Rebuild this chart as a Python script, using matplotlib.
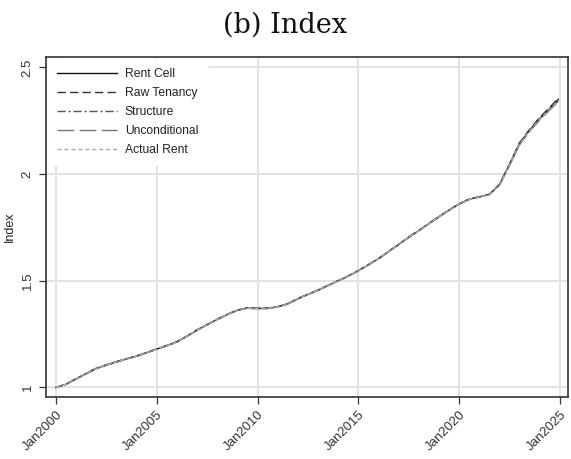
import matplotlib
matplotlib.use("Agg")
import matplotlib.pyplot as plt

# half-year sampling
years = [
    2000.0, 2000.5, 2001.0, 2001.5, 2002.0, 2002.5, 2003.0, 2003.5, 2004.0, 2004.5,
    2005.0, 2005.5, 2006.0, 2006.5, 2007.0, 2007.5, 2008.0, 2008.5, 2009.0, 2009.5,
    2010.0, 2010.5, 2011.0, 2011.5, 2012.0, 2012.5, 2013.0, 2013.5, 2014.0, 2014.5,
    2015.0, 2015.5, 2016.0, 2016.5, 2017.0, 2017.5, 2018.0, 2018.5, 2019.0, 2019.5,
    2020.0, 2020.5, 2021.0, 2021.5, 2022.0, 2022.5, 2023.0, 2023.5, 2024.0, 2024.5,
    2024.92,
]
rent_cell = [
    1.000, 1.015, 1.040, 1.065, 1.089, 1.105, 1.120, 1.134, 1.147, 1.163,
    1.180, 1.196, 1.214, 1.240, 1.269, 1.294, 1.319, 1.342, 1.362, 1.372,
    1.370, 1.371, 1.378, 1.392, 1.416, 1.436, 1.456, 1.478, 1.500, 1.522,
    1.547, 1.575, 1.603, 1.637, 1.670, 1.704, 1.735, 1.768, 1.800, 1.831,
    1.860, 1.882, 1.893, 1.905, 1.950, 2.045, 2.144, 2.206, 2.261, 2.308,
    2.350,
]
raw_tenancy = [
    1.000, 1.016, 1.041, 1.066, 1.090, 1.106, 1.121, 1.135, 1.148, 1.164,
    1.181, 1.197, 1.215, 1.241, 1.270, 1.295, 1.320, 1.343, 1.363, 1.373,
    1.371, 1.372, 1.379, 1.393, 1.417, 1.437, 1.457, 1.479, 1.501, 1.523,
    1.548, 1.576, 1.604, 1.638, 1.671, 1.705, 1.736, 1.769, 1.801, 1.832,
    1.861, 1.883, 1.894, 1.906, 1.952, 2.048, 2.147, 2.210, 2.266, 2.313,
    2.355,
]
structure = [
    1.000, 1.015, 1.040, 1.064, 1.088, 1.104, 1.119, 1.133, 1.146, 1.162,
    1.179, 1.195, 1.213, 1.239, 1.268, 1.293, 1.318, 1.341, 1.361, 1.371,
    1.369, 1.370, 1.377, 1.391, 1.415, 1.435, 1.455, 1.477, 1.499, 1.521,
    1.546, 1.574, 1.602, 1.636, 1.669, 1.703, 1.734, 1.767, 1.799, 1.830,
    1.859, 1.881, 1.892, 1.904, 1.948, 2.042, 2.140, 2.202, 2.256, 2.303,
    2.343,
]
unconditional = [
    1.000, 1.014, 1.039, 1.064, 1.088, 1.104, 1.119, 1.133, 1.146, 1.162,
    1.179, 1.195, 1.213, 1.239, 1.268, 1.293, 1.318, 1.341, 1.361, 1.371,
    1.369, 1.370, 1.377, 1.391, 1.415, 1.435, 1.455, 1.477, 1.499, 1.521,
    1.546, 1.574, 1.602, 1.636, 1.669, 1.703, 1.734, 1.767, 1.799, 1.830,
    1.859, 1.881, 1.892, 1.904, 1.947, 2.040, 2.138, 2.200, 2.254, 2.300,
    2.340,
]
actual_rent = [
    1.000, 1.015, 1.040, 1.065, 1.089, 1.105, 1.120, 1.134, 1.147, 1.163,
    1.180, 1.196, 1.214, 1.240, 1.269, 1.294, 1.319, 1.342, 1.362, 1.372,
    1.370, 1.371, 1.378, 1.392, 1.416, 1.436, 1.456, 1.478, 1.500, 1.522,
    1.547, 1.575, 1.603, 1.637, 1.670, 1.704, 1.735, 1.768, 1.800, 1.831,
    1.860, 1.882, 1.893, 1.905, 1.949, 2.044, 2.142, 2.204, 2.258, 2.305,
    2.346,
]

x_ticks = [2000, 2005, 2010, 2015, 2020, 2025]
x_labels = ["Jan2000", "Jan2005", "Jan2010", "Jan2015", "Jan2020", "Jan2025"]
y_ticks = [1, 1.5, 2, 2.5]
y_labels = ["1", "1.5", "2", "2.5"]

plt.rcParams["font.family"] = ["Liberation Sans", "DejaVu Sans"]

fig = plt.figure(figsize=(5.71, 4.59), dpi=100)
ax = fig.add_axes([0.0797, 0.135, 0.915, 0.741])

series = [
    ("Rent Cell", rent_cell, "#111111", "-", 1.0),
    ("Raw Tenancy", raw_tenancy, "#333333", (0, (6, 3)), 1.0),
    ("Structure", structure, "#555555", (0, (6, 2, 1.5, 2)), 1.0),
    ("Unconditional", unconditional, "#777777", (0, (12, 4)), 1.0),
    ("Actual Rent", actual_rent, "#aaaaaa", (0, (3, 2)), 1.0),
]
for label, vals, color, ls, lw in series:
    ax.plot(years, vals, color=color, linestyle=ls, linewidth=lw, label=label)

ax.set_xlim(1999.48, 2025.4)
ax.set_ylim(0.955, 2.549)
ax.set_xticks(x_ticks)
ax.set_xticklabels(x_labels, rotation=45, ha="right", rotation_mode="anchor",
                   fontsize=9.5, color="#333333")
ax.set_yticks(y_ticks)
ax.set_yticklabels(y_labels, rotation=90, va="center", fontsize=9.5, color="#333333")
ax.set_ylabel("Index", fontsize=9, color="#222222", labelpad=4)

ax.grid(True, color="#e3e3e3", linewidth=1.4)
ax.set_axisbelow(True)
ax.tick_params(axis="both", direction="out", length=5, width=0.9, color="#333333")
for side in ["left", "bottom", "top", "right"]:
    ax.spines[side].set_color("#333333")
    ax.spines[side].set_linewidth(1.2)

leg = ax.legend(loc="upper left", fontsize=8.7, frameon=True, fancybox=False,
                handlelength=5.0, handletextpad=0.6, labelspacing=0.58,
                borderpad=0.75, borderaxespad=0.2, labelcolor="#222222")
leg.get_frame().set_facecolor("white")
leg.get_frame().set_edgecolor("white")
leg.get_frame().set_alpha(1.0)

fig.suptitle("(b) Index", family=["DejaVu Serif"], fontsize=19.5,
             y=0.975, color="#111111")

fig.savefig("out.png", dpi=100)
